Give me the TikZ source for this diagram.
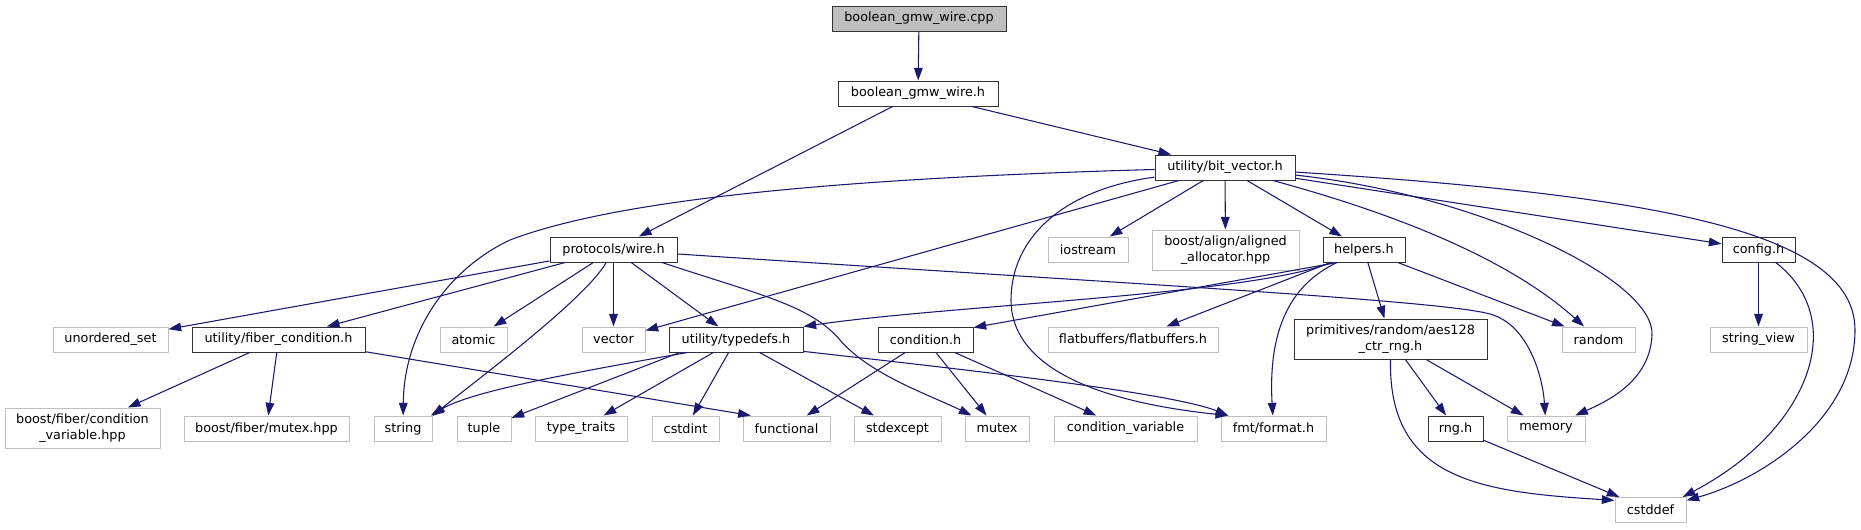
\documentclass[tikz,border=0pt]{standalone}
\usepackage{fontspec}
\usepackage{xcolor}
\usepackage{tikz}
\usetikzlibrary{arrows.meta}
\newfontfamily\graphfont{DejaVu Sans}
\definecolor{edgeblue}{HTML}{191970}
\definecolor{extgray}{HTML}{BFBFBF}

\begin{document}
\begin{tikzpicture}[
    x=0.75pt, y=-0.75pt,
    filenode/.style={rectangle, draw=black!80, fill=white, line width=0.75pt, inner sep=0pt,
      minimum height=18.75pt, align=center, font=\graphfont\fontsize{9.6}{11.75}\selectfont},
    extnode/.style={filenode, draw=extgray},
    twoline/.style={minimum height=30pt},
    boxw/.style={minimum width=#1*0.75pt},
    dep/.style={draw=edgeblue, line width=0.8pt, -{Triangle[length=9.5pt, width=6.5pt]}},
  ]
  \useasboundingbox (0,0) rectangle (1861,529);

  % Source file and its header
  \node[filenode, fill=extgray, boxw=174] (cpp) at (919,18.5) {boolean\_gmw\_wire.cpp};
  \node[filenode, boxw=160] (bgwh) at (918,93.5) {boolean\_gmw\_wire.h};
  \node[filenode, boxw=140] (bitvec) at (1225,167.5) {utility/bit\_vector.h};

  % Level 3
  \node[filenode, boxw=127] (protocols) at (613.5,249.5) {protocols/wire.h};
  \node[extnode, boxw=80] (iostream) at (1088,249.5) {iostream};
  \node[extnode, twoline, boxw=147] (align) at (1225.5,250) {boost/align/aligned\\\_allocator.hpp};
  \node[filenode, boxw=82] (helpers) at (1364,249.5) {helpers.h};
  \node[filenode, boxw=73] (config) at (1758.5,249.5) {config.h};

  % Level 4
  \node[extnode, boxw=115] (unordset) at (110.5,339.5) {unordered\_set};
  \node[filenode, boxw=173] (fibercond) at (278.5,339.5) {utility/fiber\_condition.h};
  \node[extnode, boxw=67] (atomic) at (473.5,339.5) {atomic};
  \node[extnode, boxw=63] (vector) at (613.5,339.5) {vector};
  \node[filenode, boxw=134] (typedefs) at (736,339.5) {utility/typedefs.h};
  \node[filenode, boxw=95] (condition) at (925.5,339.5) {condition.h};
  \node[extnode, boxw=170] (flatbuf) at (1133,339.5) {flatbuffers/flatbuffers.h};
  \node[filenode, twoline, boxw=193] (aesrng) at (1390.5,339) {primitives/random/aes128\\\_ctr\_rng.h};
  \node[extnode, boxw=73] (random) at (1598.5,339.5) {random};
  \node[extnode, boxw=97] (strview) at (1758.5,339.5) {string\_view};

  % Level 5
  \node[extnode, twoline, boxw=155] (fibercv) at (82.5,428) {boost/fiber/condition\\\_variable.hpp};
  \node[extnode, boxw=165] (fibermutex) at (266.5,428.5) {boost/fiber/mutex.hpp};
  \node[extnode, boxw=58] (string) at (403,428.5) {string};
  \node[extnode, boxw=54] (tuple) at (484,428.5) {tuple};
  \node[extnode, boxw=92] (typetraits) at (581,428.5) {type\_traits};
  \node[extnode, boxw=67] (cstdint) at (685.5,428.5) {cstdint};
  \node[extnode, boxw=87] (functional) at (786.5,428.5) {functional};
  \node[extnode, boxw=87] (stdexcept) at (897.5,428.5) {stdexcept};
  \node[extnode, boxw=64] (mutex) at (997,428.5) {mutex};
  \node[extnode, boxw=143] (condvar) at (1125.5,428.5) {condition\_variable};
  \node[extnode, boxw=105] (fmt) at (1273.5,428.5) {fmt/format.h};
  \node[filenode, boxw=55] (rng) at (1455.5,428.5) {rng.h};
  \node[extnode, boxw=78] (memory) at (1546,428.5) {memory};

  % Level 6
  \node[extnode, boxw=71] (cstddef) at (1650.5,510) {cstddef};

  % Edges from the top
  \draw[dep] (cpp) -- (bgwh);
  \draw[dep] (bgwh) -- (protocols);
  \draw[dep] (bgwh) -- (bitvec);

  % Edges from utility/bit_vector.h
  \draw[dep] (bitvec) .. controls (850,178) and (620,198) .. (510,240) .. controls (450,268) and (404,330) .. (string);
  \draw[dep] (bitvec) -- (vector);
  \draw[dep] (bitvec) .. controls (1060,190) and (1011,240) .. (1011,300) .. controls (1011,360) and (1080,400) .. (fmt.164);
  \draw[dep] (bitvec) -- (iostream);
  \draw[dep] (bitvec) -- (align);
  \draw[dep] (bitvec) -- (helpers);
  \draw[dep] (bitvec) .. controls (1400,215) and (1510,260) .. (random);
  \draw[dep] (bitvec) .. controls (1480,195) and (1655,280) .. (1652,335) .. controls (1650,380) and (1610,400) .. (memory);
  \draw[dep] (bitvec) -- (config);
  \draw[dep] (bitvec) .. controls (1650,195) and (1855,230) .. (1855,330) .. controls (1855,420) and (1760,480) .. (cstddef.15);

  % Edges from protocols/wire.h
  \draw[dep] (protocols) -- (unordset);
  \draw[dep] (protocols) -- (fibercond);
  \draw[dep] (protocols) -- (atomic);
  \draw[dep] (protocols) .. controls (585,300) and (470,385) .. (string.23);
  \draw[dep] (protocols) -- (vector);
  \draw[dep] (protocols) -- (typedefs);
  \draw[dep] (protocols.-15) .. controls (760,295) and (810,305) .. (840,340) .. controls (870,375) and (930,395) .. (mutex.153);
  \draw[dep] (protocols.-4) .. controls (1100,282) and (1440,300) .. (1490,314) .. controls (1530,325) and (1543,380) .. (memory);

  % Edges from utility/fiber_condition.h
  \draw[dep] (fibercond) -- (fibercv);
  \draw[dep] (fibercond) -- (fibermutex);
  \draw[dep] (fibercond.-8) -- (functional.160);

  % Edges from helpers.h
  \draw[dep] (helpers) .. controls (1250,295) and (950,305) .. (typedefs.north east);
  \draw[dep] (helpers.206) -- (condition.14);
  \draw[dep] (helpers) -- (flatbuf);
  \draw[dep] (helpers) .. controls (1290,285) and (1268,330) .. (fmt);
  \draw[dep] (helpers) -- (aesrng);
  \draw[dep] (helpers) -- (random);

  % Edges from utility/typedefs.h
  \draw[dep] (typedefs.195) .. controls (560,375) and (470,392) .. (string.25);
  \draw[dep] (typedefs.193) -- (tuple);
  \draw[dep] (typedefs) -- (typetraits);
  \draw[dep] (typedefs) -- (cstdint);
  \draw[dep] (typedefs) -- (stdexcept);
  \draw[dep] (typedefs.-10) .. controls (950,368) and (1170,392) .. (fmt.164);

  % Edges from condition.h
  \draw[dep] (condition) -- (functional);
  \draw[dep] (condition) -- (mutex);
  \draw[dep] (condition) -- (condvar);

  % Edges from the rng headers
  \draw[dep] (aesrng) -- (rng);
  \draw[dep] (aesrng) -- (memory);
  \draw[dep] (aesrng.south) .. controls (1388,480) and (1480,492) .. (cstddef.165);
  \draw[dep] (rng) -- (cstddef);

  % Edges from config.h
  \draw[dep] (config) -- (strview);
  \draw[dep] (config.-37) .. controls (1850,320) and (1810,430) .. (cstddef.22);
\end{tikzpicture}
\end{document}
